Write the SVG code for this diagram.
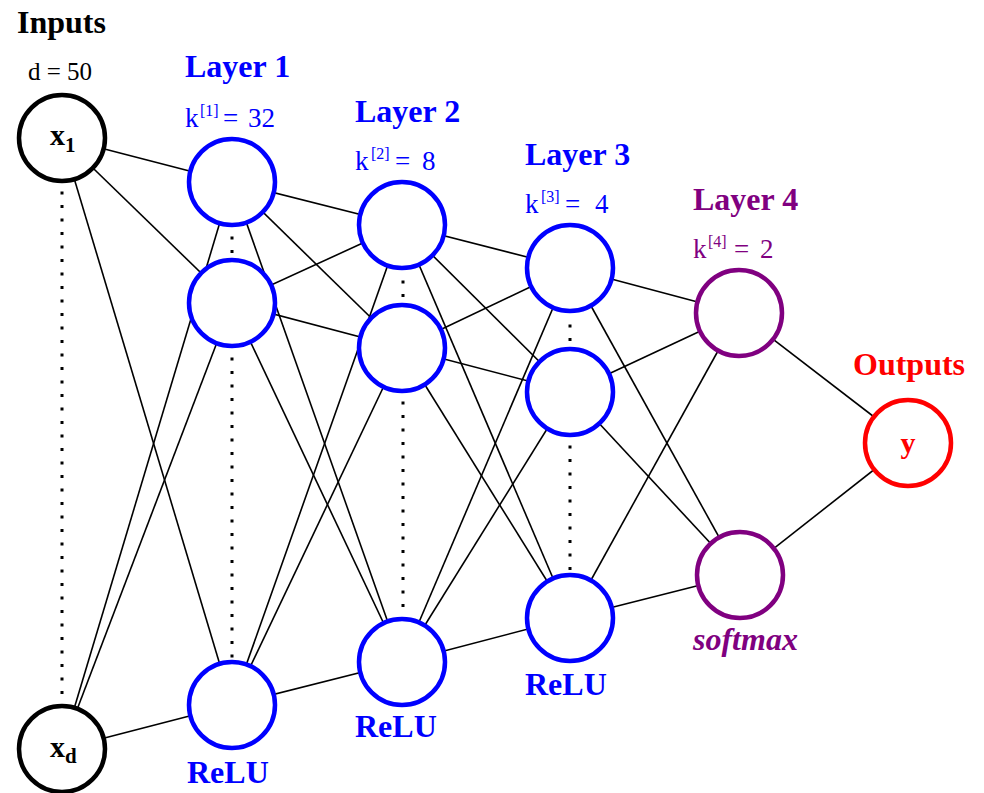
<svg xmlns="http://www.w3.org/2000/svg" width="984" height="793" viewBox="0 0 984 793">
<style>
.edge{stroke:#000;stroke-width:1.6;fill:none}
.dots{stroke:#000;stroke-width:3;stroke-dasharray:3 10.5;fill:none}
.node{fill:#fff;stroke-width:4.5}
.in{stroke:#000}
.hid{stroke:#0000ff}
.l4{stroke:#800080}
.out{stroke:#ff0000}
text{font-family:"Liberation Serif","Times New Roman",serif}
.title{font-size:32px;font-weight:bold}
.k{font-size:27px}
.sup{font-size:16px}
.blue{fill:#0000ff}
.purple{fill:#800080}
.red{fill:#ff0000}
.lbl{font-size:30px;font-weight:bold}
.sub{font-size:21px;font-weight:bold}
</style>
<rect width="984" height="793" fill="#fff"/>
<g id="connectors">
<line class="edge" x1="62" y1="138" x2="232" y2="182"/>
<line class="edge" x1="62" y1="138" x2="232" y2="303"/>
<line class="edge" x1="62" y1="138" x2="232" y2="705"/>
<line class="edge" x1="62" y1="749" x2="232" y2="182"/>
<line class="edge" x1="62" y1="749" x2="232" y2="303"/>
<line class="edge" x1="62" y1="749" x2="232" y2="705"/>
<line class="edge" x1="232" y1="182" x2="402" y2="225"/>
<line class="edge" x1="232" y1="182" x2="402" y2="348"/>
<line class="edge" x1="232" y1="182" x2="402" y2="662"/>
<line class="edge" x1="232" y1="303" x2="402" y2="225"/>
<line class="edge" x1="232" y1="303" x2="402" y2="348"/>
<line class="edge" x1="232" y1="303" x2="402" y2="662"/>
<line class="edge" x1="232" y1="705" x2="402" y2="225"/>
<line class="edge" x1="232" y1="705" x2="402" y2="348"/>
<line class="edge" x1="232" y1="705" x2="402" y2="662"/>
<line class="edge" x1="402" y1="225" x2="570" y2="268"/>
<line class="edge" x1="402" y1="225" x2="570" y2="392"/>
<line class="edge" x1="402" y1="225" x2="570" y2="618"/>
<line class="edge" x1="402" y1="348" x2="570" y2="268"/>
<line class="edge" x1="402" y1="348" x2="570" y2="392"/>
<line class="edge" x1="402" y1="348" x2="570" y2="618"/>
<line class="edge" x1="402" y1="662" x2="570" y2="268"/>
<line class="edge" x1="402" y1="662" x2="570" y2="392"/>
<line class="edge" x1="402" y1="662" x2="570" y2="618"/>
<line class="edge" x1="570" y1="268" x2="739" y2="313"/>
<line class="edge" x1="570" y1="268" x2="740" y2="575"/>
<line class="edge" x1="570" y1="392" x2="739" y2="313"/>
<line class="edge" x1="570" y1="392" x2="740" y2="575"/>
<line class="edge" x1="570" y1="618" x2="739" y2="313"/>
<line class="edge" x1="570" y1="618" x2="740" y2="575"/>
<line class="edge" x1="739" y1="313" x2="908" y2="443"/>
<line class="edge" x1="740" y1="575" x2="908" y2="443"/>
</g>
<g id="ellipsis">
<line class="dots" x1="62" y1="191.5" x2="62" y2="697"/>
<line class="dots" x1="232" y1="236.5" x2="232" y2="253"/>
<line class="dots" x1="232" y1="357.5" x2="232" y2="670"/>
<line class="dots" x1="403" y1="280.5" x2="403" y2="297"/>
<line class="dots" x1="403" y1="401.5" x2="403" y2="610"/>
<line class="dots" x1="570" y1="324.5" x2="570" y2="341"/>
<line class="dots" x1="570" y1="445.5" x2="570" y2="572"/>
</g>
<g id="x1"><circle class="node in" cx="62" cy="138" r="43"/>
<text x="50" y="145" class="lbl">x<tspan class="sub" dy="7">1</tspan></text></g>
<g id="xd"><circle class="node in" cx="62" cy="749" r="43"/>
<text x="50" y="757" class="lbl">x<tspan class="sub" dy="6">d</tspan></text></g>
<g id="l1a"><circle class="node hid" cx="232" cy="182" r="43"/></g>
<g id="l1b"><circle class="node hid" cx="232" cy="303" r="43"/></g>
<g id="l1c"><circle class="node hid" cx="232" cy="705" r="43"/></g>
<g id="l2a"><circle class="node hid" cx="402" cy="225" r="43"/></g>
<g id="l2b"><circle class="node hid" cx="402" cy="348" r="43"/></g>
<g id="l2c"><circle class="node hid" cx="402" cy="662" r="43"/></g>
<g id="l3a"><circle class="node hid" cx="570" cy="268" r="43"/></g>
<g id="l3b"><circle class="node hid" cx="570" cy="392" r="43"/></g>
<g id="l3c"><circle class="node hid" cx="570" cy="618" r="43"/></g>
<g id="l4a"><circle class="node l4" cx="739" cy="313" r="43"/></g>
<g id="l4b"><circle class="node l4" cx="740" cy="575" r="43"/></g>
<g id="y"><circle class="node out" cx="908" cy="443" r="43"/>
<text x="908" y="453" class="lbl red" text-anchor="middle">y</text></g>
<g id="labels">
<text x="17" y="33" class="title">Inputs</text>
<text x="28" y="80" font-size="25">d = 50</text>
<text x="185" y="77" class="title blue">Layer 1</text>
<text y="127" class="k blue"><tspan x="185">k</tspan><tspan x="200" dy="-11" class="sup">[1]</tspan><tspan x="223" dy="11">=</tspan><tspan x="248">32</tspan></text>
<text x="355" y="122" class="title blue">Layer 2</text>
<text y="170" class="k blue"><tspan x="355">k</tspan><tspan x="371" dy="-11" class="sup">[2]</tspan><tspan x="395" dy="11">=</tspan><tspan x="422">8</tspan></text>
<text x="525" y="165" class="title blue">Layer 3</text>
<text y="213" class="k blue"><tspan x="525">k</tspan><tspan x="541" dy="-11" class="sup">[3]</tspan><tspan x="565" dy="11">=</tspan><tspan x="595">4</tspan></text>
<text x="693" y="210" class="title purple">Layer 4</text>
<text y="258" class="k purple"><tspan x="693">k</tspan><tspan x="708" dy="-11" class="sup">[4]</tspan><tspan x="734" dy="11">=</tspan><tspan x="760">2</tspan></text>
<text x="853" y="375" class="title red">Outputs</text>
<text x="187" y="783" class="title blue">ReLU</text>
<text x="355" y="737" class="title blue">ReLU</text>
<text x="525" y="695" class="title blue">ReLU</text>
<text x="693" y="650" class="title purple" font-style="italic">softmax</text>
</g>
</svg>
